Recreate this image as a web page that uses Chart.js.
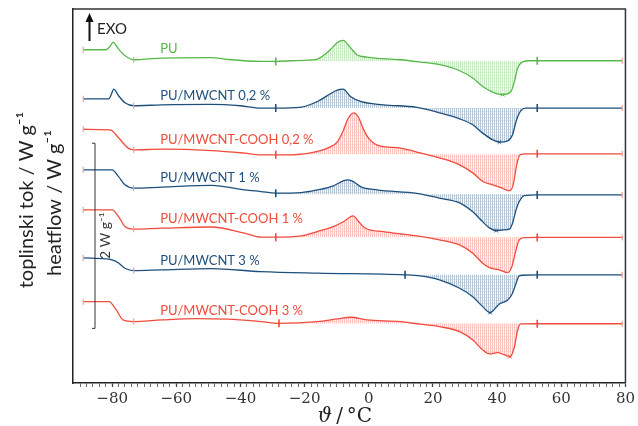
<!DOCTYPE html>
<html>
<head>
<meta charset="utf-8">
<script src="https://cdn.jsdelivr.net/npm/chart.js@4.4.0/dist/chart.umd.min.js"></script>
<style>
html,body{margin:0;padding:0;background:#fff;}
</style>
</head>
<body>
<canvas id="dscChart" width="638" height="426"></canvas>
<script>
// DSC heating curves, temperature in °C, heat flow in W/g (curves shifted for display)
var puTemp = [-89, -82, -80.5, -79.7, -78.5, -77.4, -75.4, -73.3, -64.5, -49, -44, -33.6, -29, -24, -20, -16, -12, -9.8, -8, -5.7, -3.7, -0.6, 9.8, 15.9, 22.1, 28.3, 32.4, 35.5, 38.6, 41.7, 44.3, 45.4, 46.4, 47.9, 50, 52.5, 79];
var puFlow = [3.600, 3.600, 3.643, 3.683, 3.632, 3.582, 3.521, 3.492, 3.510, 3.515, 3.495, 3.474, 3.474, 3.481, 3.486, 3.499, 3.600, 3.679, 3.701, 3.622, 3.546, 3.521, 3.492, 3.467, 3.438, 3.373, 3.294, 3.203, 3.143, 3.114, 3.149, 3.257, 3.402, 3.467, 3.481, 3.481, 3.481];

var mw02Temp = [-89, -81, -80.3, -79.5, -78, -76, -73.3, -64.5, -49, -40, -33.6, -29, -21, -16, -12, -10, -8, -5.7, -2.6, 4.5, 15, 22, 28.3, 32.4, 35.5, 38.6, 40.7, 43.3, 44.8, 45.9, 47.4, 49, 52.5, 79];
var mw02Flow = [3.070, 3.070, 3.114, 3.175, 3.103, 3.027, 2.995, 3.005, 3.010, 2.995, 2.970, 2.970, 2.981, 3.041, 3.124, 3.162, 3.175, 3.095, 3.041, 3.005, 2.978, 2.919, 2.854, 2.789, 2.699, 2.627, 2.602, 2.616, 2.681, 2.825, 2.941, 2.970, 2.970, 2.970];

var mc02Temp = [-89, -81, -80, -78, -75, -73.3, -64.5, -49, -38.7, -33.6, -29, -24, -16, -12, -9.8, -8, -6.5, -4.7, -3.3, -2, -0.6, 2.5, 9.8, 16, 22, 28.3, 32.4, 35.5, 38.6, 41.2, 43.8, 45, 46.1, 47.1, 49, 52.5, 79];
var mc02Flow = [2.741, 2.735, 2.724, 2.649, 2.537, 2.519, 2.526, 2.511, 2.483, 2.465, 2.465, 2.465, 2.501, 2.551, 2.605, 2.724, 2.854, 2.919, 2.876, 2.768, 2.670, 2.573, 2.537, 2.486, 2.432, 2.357, 2.270, 2.176, 2.141, 2.111, 2.076, 2.141, 2.357, 2.465, 2.476, 2.476, 2.476];

var mw1Temp = [-89, -80, -78, -76, -73.3, -64.5, -49, -38.7, -33.6, -29, -21, -16, -11, -7.8, -6.4, -4.8, -2.6, 2.5, 15, 22, 28.3, 32.4, 35.5, 37.6, 39.7, 42, 43.8, 44.8, 45.9, 46.9, 48.5, 52.5, 79];
var mw1Flow = [2.303, 2.303, 2.230, 2.141, 2.105, 2.116, 2.135, 2.086, 2.068, 2.051, 2.057, 2.086, 2.130, 2.187, 2.195, 2.176, 2.122, 2.086, 2.049, 1.997, 1.946, 1.849, 1.741, 1.676, 1.646, 1.654, 1.662, 1.726, 1.870, 1.960, 2.025, 2.032, 2.032];

var mc1Temp = [-89, -80, -78, -76, -73.3, -64.5, -49, -38.7, -33.6, -29, -21, -16, -11, -7.8, -4.9, -3.2, -1.1, 4.5, 15, 22, 28.3, 32.4, 35.5, 37.6, 40.7, 43.3, 44.6, 45.9, 46.9, 48.5, 52.5, 79];
var mc1Flow = [1.870, 1.870, 1.798, 1.690, 1.662, 1.672, 1.685, 1.618, 1.575, 1.575, 1.589, 1.636, 1.690, 1.744, 1.805, 1.744, 1.672, 1.636, 1.589, 1.546, 1.492, 1.402, 1.294, 1.246, 1.222, 1.192, 1.257, 1.438, 1.546, 1.571, 1.573, 1.573];

var mw3Temp = [-89, -82, -80, -78, -76, -73.3, -64.5, -49, -33.6, -16, 11.3, 16, 22, 28.3, 32.4, 35.5, 37.8, 40.7, 43.3, 44.8, 45.9, 46.9, 48, 52.5, 79];
var mw3Flow = [1.351, 1.341, 1.330, 1.297, 1.240, 1.214, 1.222, 1.235, 1.203, 1.186, 1.168, 1.157, 1.114, 1.024, 0.933, 0.825, 0.760, 0.854, 0.897, 0.970, 1.078, 1.157, 1.164, 1.168, 1.168];

var mc3Temp = [-89, -81, -78.7, -76.6, -73.3, -64.5, -54, -43.9, -33.6, -28, -16, -10, -5.7, -0.6, 9.8, 16, 22, 28.3, 32.4, 35.5, 37.6, 40.2, 42.3, 44, 45.4, 46.4, 47.4, 52.5, 79];
var mc3Flow = [0.879, 0.879, 0.789, 0.681, 0.663, 0.681, 0.695, 0.689, 0.663, 0.645, 0.663, 0.692, 0.710, 0.681, 0.663, 0.635, 0.609, 0.555, 0.465, 0.357, 0.314, 0.328, 0.303, 0.284, 0.392, 0.573, 0.638, 0.640, 0.640];

var sampleNames = ['PU', 'PU/MWCNT 0,2 %', 'PU/MWCNT-COOH 0,2 %', 'PU/MWCNT 1 %', 'PU/MWCNT-COOH 1 %', 'PU/MWCNT 3 %', 'PU/MWCNT-COOH 3 %'];
// integration limits (°C) and baseline level (W/g) of each curve
var limitLow = [-29, -29, -29, -29, -29, 11.3, -28];
var limitHigh = [52.5, 52.5, 52.5, 52.5, 52.5, 52.5, 52.5];
var baseLevel = [3.478, 2.970, 2.470, 2.040, 1.574, 1.168, 0.642];
var peakMin = [41.7, 40.7, null, 39.7, null, 37.8, 44];
var rangeMarks = [-89, -73.3, 79];

var xMajor = [-80, -60, -40, -20, 0, 20, 40, 60, 80];
var scaleBar = [0.59, 2.59]; // 2 W/g

var GREEN = '#56b848', BLUE = '#1e4f7d', RED = '#f04b3b', PINK = '#f3a098';

var DSC = {
    chart:null,
    temps:[puTemp, mw02Temp, mc02Temp, mw1Temp, mc1Temp, mw3Temp, mc3Temp],
    flows:[puFlow, mw02Flow, mc02Flow, mw1Flow, mc1Flow, mw3Flow, mc3Flow],
    colors:[GREEN, BLUE, RED, BLUE, RED, BLUE, RED],

    hatch:(color)=>{
        // fine vertical hatching with faint horizontal dots
        var c = document.createElement('canvas');
        c.width = 2; c.height = 3;
        var g = c.getContext('2d');
        g.fillStyle = color;
        g.globalAlpha = 0.32;
        g.fillRect(0, 0, 1, 3);
        g.globalAlpha = 0.15;
        g.fillRect(1, 0, 1, 1);
        return g.createPattern(c, 'repeat');
    },
    at:(i, t)=>{
        return DSC.flows[i][DSC.temps[i].indexOf(t)];
    },
    points:(i)=>{
        return DSC.temps[i].map((t, k) => ({x: t, y: DSC.flows[i][k]}));
    },
    init:()=>{
        var lines = [], fills = [], marks = [];
        for (var i = 0; i < DSC.temps.length; i++) {
            var col = DSC.colors[i];
            lines.push({
                data: DSC.points(i),
                borderColor: col,
                borderWidth: 1.3,
                pointRadius: 0,
                cubicInterpolationMode: 'monotone',
                fill: false
            });
            var lo = limitLow[i], hi = limitHigh[i];
            fills.push({
                data: DSC.points(i).filter(p => p.x >= lo && p.x <= hi),
                borderWidth: 0,
                borderColor: 'rgba(0,0,0,0)',
                backgroundColor: DSC.hatch(col),
                pointRadius: 0,
                cubicInterpolationMode: 'monotone',
                fill: {value: baseLevel[i]}
            });
            marks.push({
                data: [{x: lo, y: DSC.at(i, lo)}, {x: hi, y: DSC.at(i, hi)}],
                showLine: false,
                pointStyle: 'line',
                rotation: 90,
                pointRadius: 4,
                borderColor: col,
                borderWidth: 1.6
            });
            marks.push({
                data: rangeMarks.map(t => ({x: t, y: DSC.at(i, t)})),
                showLine: false,
                pointStyle: 'line',
                rotation: 90,
                pointRadius: 3,
                borderColor: PINK,
                borderWidth: 1.2
            });
            if (peakMin[i] !== null) {
                marks.push({
                    data: [{x: peakMin[i], y: DSC.at(i, peakMin[i])}],
                    showLine: false,
                    pointStyle: 'crossRot',
                    pointRadius: 2.5,
                    borderColor: col,
                    borderWidth: 1
                });
            }
        }

        var xTicks = [];
        for (var v = -90; v <= 80; v += 2) xTicks.push(v);

        DSC.chart = new Chart(document.getElementById('dscChart'), {
            type: 'line',
            data: {datasets: marks.concat(lines, fills)},
            options: {
                responsive: false,
                animation: false,
                devicePixelRatio: 1,
                layout: {padding: {top: 9, right: 11, left: 0, bottom: 0}},
                scales: {
                    x: {
                        type: 'linear',
                        min: -92.2,
                        max: 80,
                        afterBuildTicks: (axis) => { axis.ticks = xTicks.map(t => ({value: t})); },
                        afterFit: (s) => { s.height = 43; },
                        ticks: {
                            autoSkip: false,
                            maxRotation: 0,
                            padding: 3,
                            color: '#333',
                            font: {family: 'DejaVu Serif', size: 15},
                            callback: function(value) {
                                if (xMajor.indexOf(value) < 0) return '';
                                return value < 0 ? '\u2212' + Math.abs(value) : '' + value;
                            }
                        },
                        grid: {
                            drawOnChartArea: false,
                            tickLength: 4,
                            tickColor: '#444',
                            tickWidth: (ctx) => (ctx.tick && xMajor.indexOf(ctx.tick.value) >= 0 ? 1.3 : 0.8)
                        },
                        border: {color: '#222', width: 1.5}
                    },
                    y: {
                        min: 0,
                        max: 4.04,
                        afterFit: (s) => { s.width = 73; },
                        ticks: {display: false},
                        grid: {display: false},
                        border: {color: '#222', width: 1.5}
                    }
                },
                plugins: {
                    legend: {display: false},
                    tooltip: {enabled: false}
                }
            },
            plugins: [DSC.decor]
        });
    },
    decor:{
        id: 'decor',
        afterDraw:(chart)=>{
            var ctx = chart.ctx, a = chart.chartArea;
            var xs = chart.scales.x, ys = chart.scales.y;
            ctx.save();
            // frame top and right
            ctx.strokeStyle = '#333';
            ctx.lineWidth = 1.5;
            ctx.beginPath();
            ctx.moveTo(a.left, a.top);
            ctx.lineTo(a.right, a.top);
            ctx.lineTo(a.right, a.bottom);
            ctx.stroke();

            // curve labels
            ctx.font = '13px Lato';
            ctx.textBaseline = 'alphabetic';
            ctx.textAlign = 'left';
            for (var i = 0; i < sampleNames.length; i++) {
                ctx.fillStyle = DSC.colors[i];
                ctx.fillText(sampleNames[i], xs.getPixelForValue(-65), ys.getPixelForValue(DSC.at(i, -64.5)) - 5);
            }

            // EXO arrow
            ctx.strokeStyle = '#111';
            ctx.fillStyle = '#111';
            ctx.lineWidth = 2;
            ctx.beginPath();
            ctx.moveTo(89.5, 41);
            ctx.lineTo(89.5, 20);
            ctx.stroke();
            ctx.beginPath();
            ctx.moveTo(89.5, 13);
            ctx.lineTo(85.5, 22);
            ctx.lineTo(93.5, 22);
            ctx.closePath();
            ctx.fill();
            ctx.font = '15px Lato';
            ctx.fillStyle = '#222';
            ctx.fillText('EXO', 97, 34);

            // 2 W/g scale bar
            var bx = 95, bt = ys.getPixelForValue(scaleBar[1]), bb = ys.getPixelForValue(scaleBar[0]);
            ctx.strokeStyle = '#333';
            ctx.lineWidth = 1;
            ctx.beginPath();
            ctx.moveTo(bx - 3, bt); ctx.lineTo(bx, bt); ctx.lineTo(bx, bb); ctx.lineTo(bx - 3, bb);
            ctx.stroke();
            ctx.save();
            ctx.translate(110, (bt + bb) / 2);
            ctx.rotate(-Math.PI / 2);
            ctx.textAlign = 'center';
            ctx.font = '14px Lato';
            ctx.fillStyle = '#333';
            ctx.fillText('2 W g\u207B\u00B9', 0, 0);
            ctx.restore();

            // y titles
            ctx.font = '20px Lato';
            ctx.fillStyle = '#222';
            ctx.textAlign = 'center';
            ctx.save();
            ctx.translate(33, 200);
            ctx.rotate(-Math.PI / 2);
            ctx.fillText('toplinski tok / W g\u207B\u00B9', 0, 0);
            ctx.restore();
            ctx.save();
            ctx.translate(61, 203);
            ctx.rotate(-Math.PI / 2);
            ctx.fillText('heatflow / W g\u207B\u00B9', 0, 0);
            ctx.restore();

            // x title
            ctx.textAlign = 'left';
            ctx.font = 'italic 20px DejaVu Serif';
            var w1 = ctx.measureText('\u03D1').width;
            ctx.font = '20px DejaVu Serif';
            var rest = '\u2009/\u2009\u00B0C';
            var w2 = ctx.measureText(rest).width;
            var x0 = 345 - (w1 + w2) / 2;
            ctx.font = 'italic 20px DejaVu Serif';
            ctx.fillText('\u03D1', x0, 422);
            ctx.font = '20px DejaVu Serif';
            ctx.fillText(rest, x0 + w1, 422);
            ctx.restore();
        }
    }
};

DSC.init();
</script>
</body>
</html>
